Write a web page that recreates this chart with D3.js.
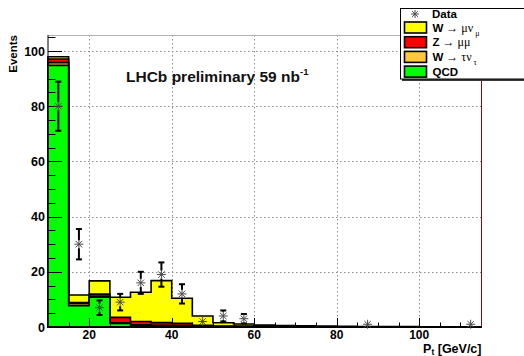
<!DOCTYPE html>
<html>
<head>
<meta charset="utf-8">
<script src="https://cdn.jsdelivr.net/npm/d3@7"></script>
<style>
  html, body { margin: 0; padding: 0; background: #fff; }
  svg { display: block; }
  text { font-family: "Liberation Sans", Arial, sans-serif; }
</style>
</head>
<body>
<script>
// Muon transverse-momentum spectrum, 5 GeV/c bins from 10 to 115 GeV/c
const binLow = [10, 15, 20, 25, 30, 35, 40, 45, 50, 55, 60, 65, 70, 75, 80, 85, 90, 95, 100, 105, 110];
const binWidth = 5;

// Stacked simulation components (events per bin), bottom to top
const qcd   = [94.8, 7.7, 10.8, 1.3, 0.5, 0.3, 0.2, 0.1, 0.05, 0.05, 0.03, 0.02, 0.01, 0, 0, 0, 0, 0, 0, 0, 0];
const wTau  = [1.0, 0.7, 0.3, 0.2, 0.3, 0.3, 0.3, 0.2, 0.1, 0.1, 0.05, 0.05, 0.03, 0.03, 0.02, 0.02, 0.01, 0.01, 0.01, 0.01, 0.01];
const zMuMu = [1.3, 0.5, 0.8, 2.0, 1.2, 1.0, 0.8, 0.3, 0.2, 0.15, 0.1, 0.08, 0.05, 0.05, 0.04, 0.03, 0.03, 0.02, 0.02, 0.02, 0.01];
const wMuNu = [0.8, 2.7, 4.8, 7.3, 10.6, 15.2, 9.1, 3.4, 1.2, 0.8, 0.5, 0.35, 0.3, 0.25, 0.2, 0.15, 0.12, 0.1, 0.08, 0.07, 0.05];

// Measured data: bin centres, counts and statistical errors
const dataX   = [12.5, 17.5, 22.5, 27.5, 32.5, 37.5, 42.5, 47.5, 52.5, 57.5, 87.5, 112.5];
const dataY   = [80, 30, 7, 9, 16, 19, 12, 2, 4, 3, 1, 1];
const dataErr = [8.9, 5.5, 2.65, 3.0, 4.0, 4.4, 3.5, 1.4, 2.0, 1.7, 1.0, 1.0];

// Axis ticks
const xMajorTicks = [20, 40, 60, 80, 100];
const yMajorTicks = [0, 20, 40, 60, 80, 100];

const W = 524, H = 356;
const svg = d3.select("body").append("svg").attr("width", W).attr("height", H);

const x = d3.scaleLinear().domain([10, 115]).range([48, 481]);
const y = d3.scaleLinear().domain([0, 105.8]).range([327, 35]);

// Grid
const grid = svg.append("g").attr("stroke", "#8a8a8a").attr("stroke-width", 1)
  .attr("stroke-dasharray", "1.5,2.5");
grid.selectAll("line.gx").data(xMajorTicks).join("line")
  .attr("x1", d => Math.round(x(d)) + 0.5).attr("x2", d => Math.round(x(d)) + 0.5)
  .attr("y1", y.range()[1]).attr("y2", y.range()[0]);
grid.selectAll("line.gy").data(yMajorTicks.filter(d => d > 0)).join("line")
  .attr("x1", x.range()[0]).attr("x2", x.range()[1])
  .attr("y1", d => Math.round(y(d)) + 0.5).attr("y2", d => Math.round(y(d)) + 0.5);

// Frame top and right edges
svg.append("line").attr("x1", x.range()[0]).attr("x2", x.range()[1])
  .attr("y1", 35.5).attr("y2", 35.5).attr("stroke", "#b0b0b0");
svg.append("line").attr("x1", 481.5).attr("x2", 481.5)
  .attr("y1", 35).attr("y2", 327).attr("stroke", "#7a1010");

// Stack: cumulative layers, drawn from the total downward
const layers = [
  { vals: qcd,   color: "#00ff00" },
  { vals: wTau,  color: "#ffc83a" },
  { vals: zMuMu, color: "#ff0000" },
  { vals: wMuNu, color: "#ffff00" }
];
let running = binLow.map(() => 0);
layers.forEach(l => {
  running = running.map((v, i) => v + l.vals[i]);
  l.cum = running.slice();
});

const stepPoints = cum => binLow.flatMap((lo, i) => [[lo, cum[i]], [lo + binWidth, cum[i]]]);
const area = d3.area()
  .x(d => x(d[0]))
  .y0(y(0))
  .y1(d => y(d[1]));

const stackG = svg.append("g");
layers.slice().reverse().forEach(l => {
  stackG.append("path")
    .attr("d", area(stepPoints(l.cum)))
    .attr("fill", l.color)
    .attr("stroke", "#000")
    .attr("stroke-width", 1.6)
    .attr("stroke-linejoin", "miter");
});

// Axes with inward ticks
const axisG = svg.append("g").attr("stroke", "#000").attr("stroke-width", 1);
axisG.append("line").attr("x1", 48).attr("x2", 48).attr("y1", 35).attr("y2", 327.5);
axisG.append("line").attr("x1", 48).attr("x2", 481).attr("y1", 327).attr("y2", 327).attr("stroke-width", 1.5);

const yMinor = d3.range(0, 106, 5).filter(d => d % 20 !== 0);
axisG.selectAll("line.yt").data(yMajorTicks).join("line")
  .attr("x1", 48).attr("x2", 62)
  .attr("y1", d => Math.round(y(d)) + 0.5).attr("y2", d => Math.round(y(d)) + 0.5);
axisG.selectAll("line.ytm").data(yMinor).join("line")
  .attr("x1", 48).attr("x2", 55.5)
  .attr("y1", d => Math.round(y(d)) + 0.5).attr("y2", d => Math.round(y(d)) + 0.5);

const xMinor = d3.range(15, 115, 5).filter(d => d % 20 !== 0);
axisG.selectAll("line.xt").data(xMajorTicks).join("line")
  .attr("x1", d => Math.round(x(d)) + 0.5).attr("x2", d => Math.round(x(d)) + 0.5)
  .attr("y1", 327).attr("y2", 318);
axisG.selectAll("line.xtm").data(xMinor).join("line")
  .attr("x1", d => Math.round(x(d)) + 0.5).attr("x2", d => Math.round(x(d)) + 0.5)
  .attr("y1", 327).attr("y2", 322.5);

// Tick labels
svg.append("g").selectAll("text").data(yMajorTicks).join("text")
  .attr("x", 45).attr("y", d => y(d) + 4.5)
  .attr("text-anchor", "end").attr("font-size", 12.5).attr("font-weight", "bold")
  .text(d => d);
svg.append("g").selectAll("text").data(xMajorTicks).join("text")
  .attr("x", d => x(d)).attr("y", 338.5)
  .attr("text-anchor", "middle").attr("font-size", 12).attr("font-weight", "bold")
  .text(d => d);

// Axis titles
svg.append("text")
  .attr("transform", "translate(16.5,35) rotate(-90)")
  .attr("text-anchor", "end").attr("font-size", 11.5).attr("font-weight", "bold")
  .text("Events");

const xt = svg.append("text").attr("x", 481.5).attr("y", 353)
  .attr("text-anchor", "end").attr("font-size", 12.5).attr("font-weight", "bold");
xt.append("tspan").text("P");
xt.append("tspan").attr("font-size", 8.5).attr("dy", 1.5).text("t");
xt.append("tspan").attr("dy", -1.5).text(" [GeV/c]");

// Data: error bars and star markers
const star = (g, cx, cy, r) => {
  const d = r * 0.72;
  g.append("path")
    .attr("d", `M${cx - r},${cy}H${cx + r}M${cx},${cy - r}V${cy + r}` +
               `M${cx - d},${cy - d}L${cx + d},${cy + d}M${cx - d},${cy + d}L${cx + d},${cy - d}`)
    .attr("stroke", "#4a4a4a").attr("stroke-width", 1).attr("fill", "none");
};

const dataG = svg.append("g");
dataX.forEach((xv, i) => {
  const cx = x(xv), cy = y(dataY[i]);
  const top = y(dataY[i] + dataErr[i]), bot = y(Math.max(0, dataY[i] - dataErr[i]));
  const gap = 4;
  const eb = dataG.append("g").attr("stroke", "#000").attr("stroke-width", 2);
  if (cy - top > gap) {
    eb.append("line").attr("x1", cx).attr("x2", cx).attr("y1", top).attr("y2", cy - gap);
    eb.append("line").attr("x1", cx - 3).attr("x2", cx + 3).attr("y1", top).attr("y2", top);
  }
  if (bot - cy > gap) {
    eb.append("line").attr("x1", cx).attr("x2", cx).attr("y1", cy + gap).attr("y2", bot);
    eb.append("line").attr("x1", cx - 3).attr("x2", cx + 3).attr("y1", bot).attr("y2", bot);
  }
  star(dataG, cx, cy, 4.5);
});

// Title
const title = svg.append("text").attr("x", 126).attr("y", 82)
  .attr("font-size", 15.5).attr("font-weight", "bold").attr("fill", "#111");
title.append("tspan").text("LHCb preliminary 59 nb");
title.append("tspan").attr("font-size", 9.5).attr("dy", -7).text("-1");

// Legend
const legendNames = [
  [["W", "b"], [" \u2192 \u03bc\u03bd", "s"], ["\u03bc", "sub"]],
  [["Z", "b"], [" \u2192 \u03bc\u03bc", "s"]],
  [["W", "b"], [" \u2192 \u03c4\u03bd", "s"], ["\u03c4", "sub"]],
  [["QCD", "b"]]
];
const legendColors = ["#ffff00", "#ff0000", "#ffc83a", "#00ff00"];

const lg = svg.append("g");
lg.append("rect").attr("x", 402).attr("y", 78.5).attr("width", 130).attr("height", 2.5).attr("fill", "#3a3a3a");
lg.append("rect").attr("x", 400.5).attr("y", 8.5).attr("width", 130).attr("height", 70.5)
  .attr("fill", "#fff").attr("stroke", "#000").attr("stroke-width", 1);

star(lg, 415, 14, 4);
lg.append("text").attr("x", 432).attr("y", 17.5).attr("font-size", 11.5).attr("font-weight", "bold").text("Data");

legendNames.forEach((parts, i) => {
  const cy = 27.5 + i * 14.7;
  lg.append("rect").attr("x", 404.5).attr("y", cy - 5.5).attr("width", 22).attr("height", 11)
    .attr("fill", legendColors[i]).attr("stroke", "#000").attr("stroke-width", 1.6);
  const t = lg.append("text").attr("x", 432.5).attr("y", cy + 4).attr("font-size", 11.5);
  parts.forEach(([s, kind]) => {
    const ts = t.append("tspan").text(s);
    if (kind === "b") ts.attr("font-weight", "bold");
    if (kind === "s") ts.attr("font-family", "'Liberation Serif', 'Times New Roman', serif").attr("font-size", 12);
    if (kind === "sub") {
      ts.attr("font-family", "'Liberation Serif', 'Times New Roman', serif")
        .attr("font-size", 8).attr("dx", 2).attr("dy", 4);
    }
  });
});
</script>
</body>
</html>
